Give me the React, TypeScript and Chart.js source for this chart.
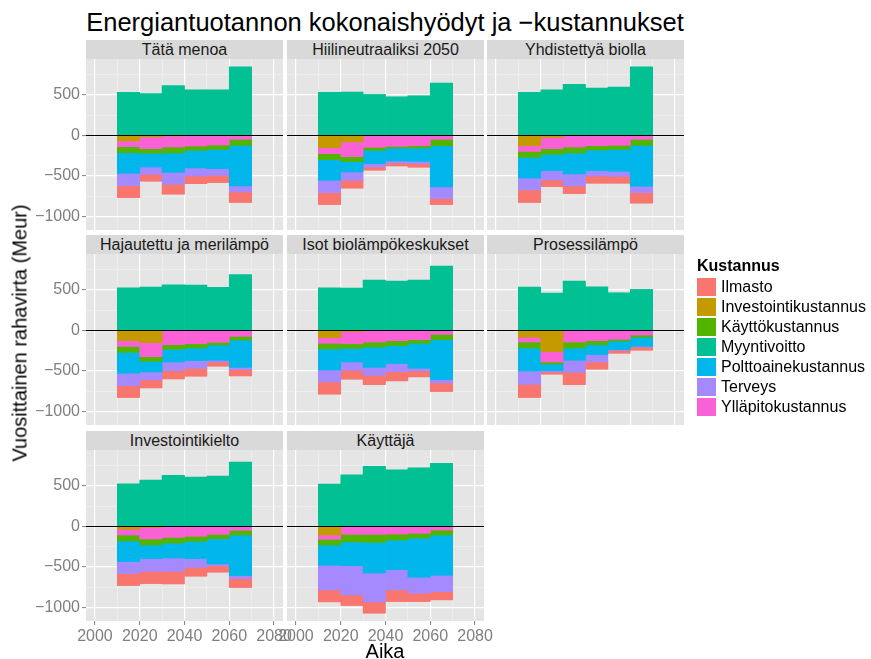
import React, { useEffect, useRef } from "react";
import { Chart, registerables } from "chart.js";

Chart.register(...registerables);

const FONT = '"Liberation Sans", Arial, Helvetica, sans-serif';

// ---------- data ----------
const chartTitle = "Energiantuotannon kokonaishyödyt ja \u2212kustannukset";
const xTitle = "Aika";
const yTitle = "Vuosittainen rahavirta (Meur)";
const legendTitle = "Kustannus";

const panelTitles = [
  "Tätä menoa",
  "Hiilineutraaliksi 2050",
  "Yhdistettyä biolla",
  "Hajautettu ja merilämpö",
  "Isot biolämpökeskukset",
  "Prosessilämpö",
  "Investointikielto",
  "Käyttäjä",
];

const periodStarts = [2010, 2020, 2030, 2040, 2050, 2060];
const periodLength = 10;
const xSpan = [2000, 2080];

// one row per panel, one value per period (Meur)
const myyntivoitto = [
  [531, 518, 617, 564, 564, 848],
  [531, 535, 506, 477, 490, 646],
  [531, 564, 630, 584, 597, 848],
  [527, 535, 564, 560, 531, 691],
  [527, 523, 621, 609, 621, 794],
  [535, 461, 609, 539, 465, 506],
  [527, 572, 630, 609, 621, 794],
  [523, 638, 741, 700, 724, 778],
];
const investointikustannus = [
  [-70, -21, -4, 0, 0, 0],
  [-152, -82, 0, 0, 0, 0],
  [-128, -25, 0, 0, 0, 0],
  [-128, -152, 0, 0, 0, 0],
  [-91, -16, 0, 0, 0, 0],
  [-86, -263, 0, 0, 0, 0],
  [-37, -16, 0, 0, 0, 0],
  [-107, 0, 0, 0, 0, 0],
];
const yllapitokustannus = [
  [-70, -144, -140, -132, -119, -49],
  [-74, -181, -148, -136, -128, -49],
  [-70, -140, -144, -128, -123, -49],
  [-70, -173, -177, -165, -148, -74],
  [-69, -149, -144, -128, -115, -49],
  [-58, -128, -144, -128, -111, -58],
  [-70, -140, -136, -123, -99, -49],
  [-53, -99, -99, -95, -86, -45],
];
const kayttokustannus = [
  [-74, -57, -74, -53, -54, -74],
  [-74, -62, -37, -20, -28, -79],
  [-74, -70, -74, -53, -50, -74],
  [-74, -58, -58, -53, -33, -45],
  [-70, -57, -62, -61, -45, -66],
  [-74, -25, -74, -49, -21, -28],
  [-74, -74, -70, -62, -53, -58],
  [-70, -94, -99, -74, -58, -62],
];
const polttoainekustannus = [
  [-255, -169, -239, -218, -239, -502],
  [-256, -128, -165, -161, -165, -510],
  [-255, -201, -259, -255, -271, -506],
  [-259, -131, -156, -156, -189, -338],
  [-260, -169, -251, -222, -309, -494],
  [-284, -82, -152, -123, -107, -112],
  [-255, -169, -185, -214, -313, -502],
  [-251, -293, -378, -366, -486, -498],
];
const terveys = [
  [-152, -90, -148, -99, -82, -75],
  [-152, -103, -41, -25, -29, -144],
  [-148, -115, -148, -66, -62, -79],
  [-152, -99, -107, -95, -21, -29],
  [-148, -103, -99, -99, -33, -41],
  [-165, -16, -149, -91, -8, -8],
  [-148, -157, -165, -107, -21, -37],
  [-305, -362, -358, -251, -197, -202],
];
const ilmasto = [
  [-149, -87, -123, -95, -90, -131],
  [-148, -98, -41, -37, -45, -74],
  [-156, -83, -95, -91, -87, -131],
  [-148, -99, -103, -99, -53, -78],
  [-152, -111, -115, -115, -74, -107],
  [-164, -29, -152, -90, -37, -41],
  [-148, -152, -156, -111, -82, -111],
  [-148, -131, -140, -144, -103, -102],
];

const legendNames = [
  "Ilmasto",
  "Investointikustannus",
  "Käyttökustannus",
  "Myyntivoitto",
  "Polttoainekustannus",
  "Terveys",
  "Ylläpitokustannus",
];
const legendColors = ["#F8766D", "#C49A00", "#53B400", "#00C094", "#00B6EB", "#A58AFF", "#FB61D7"];

// stacking order from zero outwards
const stackOrder: [string, number[][]][] = [
  ["Investointikustannus", investointikustannus],
  ["Ylläpitokustannus", yllapitokustannus],
  ["Käyttökustannus", kayttokustannus],
  ["Polttoainekustannus", polttoainekustannus],
  ["Terveys", terveys],
  ["Ilmasto", ilmasto],
  ["Myyntivoitto", myyntivoitto],
];

// ---------- derived limits (ggplot-like 5% expansion) ----------
function computeYLimits() {
  let lo = 0;
  let hi = 0;
  for (let p = 0; p < panelTitles.length; p++) {
    for (let j = 0; j < periodStarts.length; j++) {
      let neg = 0;
      let pos = 0;
      for (const [, arr] of stackOrder) {
        const v = arr[p][j];
        if (v < 0) neg += v;
        else pos += v;
      }
      lo = Math.min(lo, neg);
      hi = Math.max(hi, pos);
    }
  }
  const pad = (hi - lo) * 0.05;
  return [lo - pad, hi + pad];
}
const [yMin, yMax] = computeYLimits();
const xPad = (xSpan[1] - xSpan[0]) * 0.05;
const xMin = xSpan[0] - xPad;
const xMax = xSpan[1] + xPad;

const X_MINOR = 10;
const X_MAJOR = 20;
const Y_MINOR = 250;
const Y_MAJOR = 500;

function stepTicks(min: number, max: number, step: number) {
  const out: { value: number }[] = [];
  for (let v = Math.ceil(min / step) * step; v <= max + 1e-9; v += step) out.push({ value: v });
  return out;
}

// ---------- layout ----------
const PLOT_W = 197;
const PLOT_H = 171;
const STRIP_H = 19;
const EXT_T = 16;
const colLeft = [86, 287, 487];
const rowTop = [59, 254, 450];

const colorOf = (name: string) => legendColors[legendNames.indexOf(name)];

const decorPlugin = {
  id: "panelDecor",
  beforeDraw(chart: any) {
    const { ctx, chartArea: a } = chart;
    ctx.save();
    ctx.fillStyle = "#e5e5e5";
    ctx.fillRect(a.left, a.top, a.right - a.left, a.bottom - a.top);
    ctx.restore();
  },
  afterDatasetsDraw(chart: any) {
    const { ctx, chartArea: a } = chart;
    const y = Math.round(chart.scales.y.getPixelForValue(0)) + 0.5;
    ctx.save();
    ctx.strokeStyle = "#000000";
    ctx.lineWidth = 1;
    ctx.beginPath();
    ctx.moveTo(a.left, y);
    ctx.lineTo(a.right, y);
    ctx.stroke();
    ctx.restore();
  },
};

function Panel({ index }: { index: number }) {
  const ref = useRef<HTMLCanvasElement | null>(null);
  const row = Math.floor(index / 3);
  const col = index % 3;
  const isLeft = col === 0;
  const isBottom = index >= 6;
  const extL = isLeft ? 86 : 24;
  const extR = 24;
  const extB = isBottom ? 34 : 16;
  const yW = isLeft ? 60 : 0;
  const xH = isBottom ? 30 : 0;
  const canvasLeft = colLeft[col] - extL;
  const canvasTop = rowTop[row] - EXT_T;
  const cw = PLOT_W + extL + extR;
  const ch = PLOT_H + EXT_T + extB;

  useEffect(() => {
    if (!ref.current) return;
    const isMajorX = (v: number) => Math.abs(v % X_MAJOR) < 1e-6;
    const isMajorY = (v: number) => Math.abs(v % Y_MAJOR) < 1e-6;
    const chart = new Chart(ref.current, {
      type: "bar",
      data: {
        datasets: stackOrder.map(([name, arr]) => ({
          label: name,
          data: periodStarts.map((s, j) => ({ x: s + periodLength / 2, y: arr[index][j] })),
          backgroundColor: colorOf(name),
          borderWidth: 0,
          barPercentage: 1,
          categoryPercentage: 1,
          stack: "all",
        })),
      } as any,
      options: {
        responsive: false,
        animation: false,
        events: [],
        layout: { padding: { left: extL - yW, right: extR, top: EXT_T, bottom: extB - xH } },
        plugins: { legend: { display: false }, tooltip: { enabled: false } },
        scales: {
          x: {
            type: "linear",
            stacked: true,
            min: xMin,
            max: xMax,
            offset: false,
            afterBuildTicks: (s: any) => {
              s.ticks = stepTicks(xMin, xMax, X_MINOR);
            },
            afterFit: (s: any) => {
              s.height = xH;
            },
            ticks: {
              display: isBottom,
              autoSkip: false,
              maxRotation: 0,
              minRotation: 0,
              padding: 2,
              color: "#7f7f7f",
              font: { family: FONT, size: 16 },
              callback: (v: any) => (isMajorX(Number(v)) ? String(v) : ""),
            },
            grid: {
              offset: false,
              color: (c: any) => (c.tick && isMajorX(c.tick.value) ? "#ffffff" : "#f2f2f2"),
              lineWidth: (c: any) => (c.tick && isMajorX(c.tick.value) ? 1.2 : 0.6),
              drawTicks: isBottom,
              tickLength: 4,
              tickWidth: 1,
              tickColor: (c: any) => (c.tick && isMajorX(c.tick.value) ? "#7f7f7f" : "rgba(0,0,0,0)"),
            },
            border: { display: false },
          },
          y: {
            type: "linear",
            stacked: true,
            min: yMin,
            max: yMax,
            afterBuildTicks: (s: any) => {
              s.ticks = stepTicks(yMin, yMax, Y_MINOR);
            },
            afterFit: (s: any) => {
              s.width = yW;
            },
            ticks: {
              display: isLeft,
              autoSkip: false,
              padding: 2,
              color: "#7f7f7f",
              font: { family: FONT, size: 16 },
              callback: (v: any) => {
                const n = Number(v);
                if (!isMajorY(n)) return "";
                return n < 0 ? "\u2212" + Math.abs(n) : String(n);
              },
            },
            grid: {
              color: (c: any) => (c.tick && isMajorY(c.tick.value) ? "#ffffff" : "#f2f2f2"),
              lineWidth: (c: any) => (c.tick && isMajorY(c.tick.value) ? 1.2 : 0.6),
              drawTicks: isLeft,
              tickLength: 4,
              tickWidth: 1,
              tickColor: (c: any) => (c.tick && isMajorY(c.tick.value) ? "#7f7f7f" : "rgba(0,0,0,0)"),
            },
            border: { display: false },
          },
        },
      } as any,
      plugins: [decorPlugin as any],
    });
    return () => chart.destroy();
  }, [index]);

  return (
    <>
      <div
        style={{
          position: "absolute",
          left: colLeft[col],
          top: rowTop[row] - STRIP_H,
          width: PLOT_W,
          height: STRIP_H,
          background: "#d9d9d9",
          color: "#1a1a1a",
          font: `16px ${FONT}`,
          lineHeight: `${STRIP_H}px`,
          textAlign: "center",
          whiteSpace: "nowrap",
          overflow: "hidden",
        }}
      >
        {panelTitles[index]}
      </div>
      <canvas
        ref={ref}
        width={cw}
        height={ch}
        style={{ position: "absolute", left: canvasLeft, top: canvasTop, width: cw, height: ch }}
      />
    </>
  );
}

export default function App() {
  const centerX = (colLeft[0] + colLeft[2] + PLOT_W) / 2;
  return (
    <div
      style={{
        position: "absolute",
        left: 0,
        top: 0,
        width: 871,
        height: 659,
        overflow: "hidden",
        background: "#ffffff",
        fontFamily: FONT,
      }}
    >
      <div
        style={{
          position: "absolute",
          left: centerX,
          top: 22,
          transform: "translate(-50%, -50%)",
          fontSize: 25.5,
          color: "#000",
          whiteSpace: "nowrap",
        }}
      >
        {chartTitle}
      </div>
      {panelTitles.map((_, i) => (
        <Panel key={i} index={i} />
      ))}
      <div
        style={{
          position: "absolute",
          left: centerX,
          top: 651,
          transform: "translate(-50%, -50%)",
          fontSize: 20,
          color: "#000",
          whiteSpace: "nowrap",
        }}
      >
        {xTitle}
      </div>
      <div
        style={{
          position: "absolute",
          left: 20,
          top: 333,
          transform: "translate(-50%, -50%) rotate(-90deg)",
          fontSize: 20,
          color: "#000",
          whiteSpace: "nowrap",
        }}
      >
        {yTitle}
      </div>
      <div style={{ position: "absolute", left: 697, top: 257, fontSize: 16, fontWeight: "bold", color: "#000", lineHeight: "18px" }}>
        {legendTitle}
      </div>
      {legendNames.map((name, i) => (
        <div key={name} style={{ position: "absolute", left: 697, top: 278 + i * 20, height: 18, display: "flex", alignItems: "center" }}>
          <div style={{ width: 19, height: 18, background: legendColors[i] }} />
          <div style={{ marginLeft: 5, fontSize: 16, color: "#000", lineHeight: "18px", whiteSpace: "nowrap" }}>{name}</div>
        </div>
      ))}
    </div>
  );
}
